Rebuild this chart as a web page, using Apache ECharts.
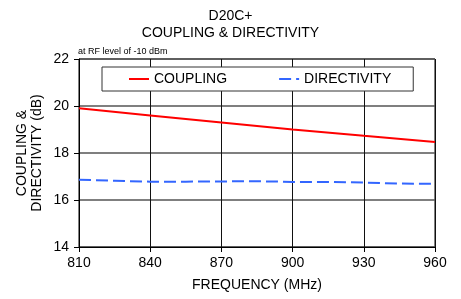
<!DOCTYPE html>
<html>
<head>
<meta charset="utf-8">
<script src="https://cdn.jsdelivr.net/npm/echarts@6/dist/echarts.min.js"></script>
<style>
  html, body { margin: 0; padding: 0; background: #fff; }
  #chart { width: 461px; height: 299px; }
</style>
</head>
<body>
<div id="chart"></div>
<script>
  // frequencies (MHz) and values (dB)
  var couplingFreq = [810, 840, 870, 900, 930, 960];
  var couplingDb = [19.9, 19.6, 19.3, 19.0, 18.73, 18.47];

  var directivityFreq = [810, 825, 840, 855, 870, 885, 900, 915, 930, 945, 960];
  var directivityDb = [16.86, 16.82, 16.78, 16.78, 16.79, 16.8, 16.77, 16.77, 16.74, 16.7, 16.69];

  var seriesNames = ['COUPLING', 'DIRECTIVITY'];

  function pairs(xs, ys) {
    return xs.map(function (x, i) { return [x, ys[i]]; });
  }

  var font = 'Liberation Sans, Arial, sans-serif';
  var chart = echarts.init(document.getElementById('chart'));

  chart.setOption({
    animation: false,
    textStyle: { fontFamily: font },
    title: [
      {
        text: 'D20C+\nCOUPLING & DIRECTIVITY',
        left: 'center',
        top: 8,
        padding: 0,
        textStyle: { fontSize: 14, fontWeight: 'normal', color: '#000', lineHeight: 17, fontFamily: font }
      },
      {
        text: 'at RF level of -10 dBm',
        left: 78,
        top: 47,
        padding: 0,
        textStyle: { fontSize: 9, fontWeight: 'normal', color: '#000', fontFamily: font }
      }
    ],
    legend: {
      left: 102,
      top: 67,
      itemGap: 52,
      padding: [5, 22, 5, 27],
      backgroundColor: '#fff',
      borderColor: '#333',
      borderWidth: 1,
      itemWidth: 20,
      itemHeight: 10,
      textStyle: { fontSize: 14, color: '#000' },
      data: [
        { name: seriesNames[0], icon: 'path://M0,4 L20,4 L20,6 L0,6 Z' },
        { name: seriesNames[1], icon: 'path://M0,4 L12,4 L12,6 L0,6 Z M17,4 L20,4 L20,6 L17,6 Z' }
      ]
    },
    grid: {
      left: 79, right: 26, top: 59, bottom: 52,
      show: true, borderColor: '#000', borderWidth: 1
    },
    xAxis: {
      type: 'value',
      min: 810, max: 960, interval: 30,
      name: 'FREQUENCY (MHz)',
      nameLocation: 'middle',
      nameGap: 31,
      nameMoveOverlap: false,
      nameTextStyle: { fontSize: 14, color: '#000' },
      axisLine: { lineStyle: { color: '#000' } },
      axisTick: { show: true, length: 5, lineStyle: { color: '#000' } },
      axisLabel: { fontSize: 14, color: '#000', margin: 9 },
      splitLine: { show: true, lineStyle: { color: '#111', width: 1 } }
    },
    yAxis: {
      type: 'value',
      min: 14, max: 22, interval: 2,
      name: 'COUPLING &\nDIRECTIVITY (dB)',
      nameLocation: 'middle',
      nameGap: 34,
      nameMoveOverlap: false,
      nameTextStyle: { fontSize: 14, color: '#000', lineHeight: 15 },
      axisLine: { show: true, lineStyle: { color: '#000' } },
      axisTick: { show: true, length: 5, lineStyle: { color: '#000' } },
      axisLabel: { fontSize: 14, color: '#000', margin: 10 },
      splitLine: { show: true, lineStyle: { color: '#555', width: 1.5 } }
    },
    series: [
      {
        name: seriesNames[0],
        type: 'line',
        data: pairs(couplingFreq, couplingDb),
        showSymbol: false,
        symbol: 'none',
        lineStyle: { color: '#ff0000', width: 2 },
        itemStyle: { color: '#ff0000' }
      },
      {
        name: seriesNames[1],
        type: 'line',
        data: pairs(directivityFreq, directivityDb),
        showSymbol: false,
        symbol: 'none',
        lineStyle: { color: '#3366ff', width: 2, type: [12, 5] },
        itemStyle: { color: '#3366ff' }
      }
    ]
  });
</script>
</body>
</html>
